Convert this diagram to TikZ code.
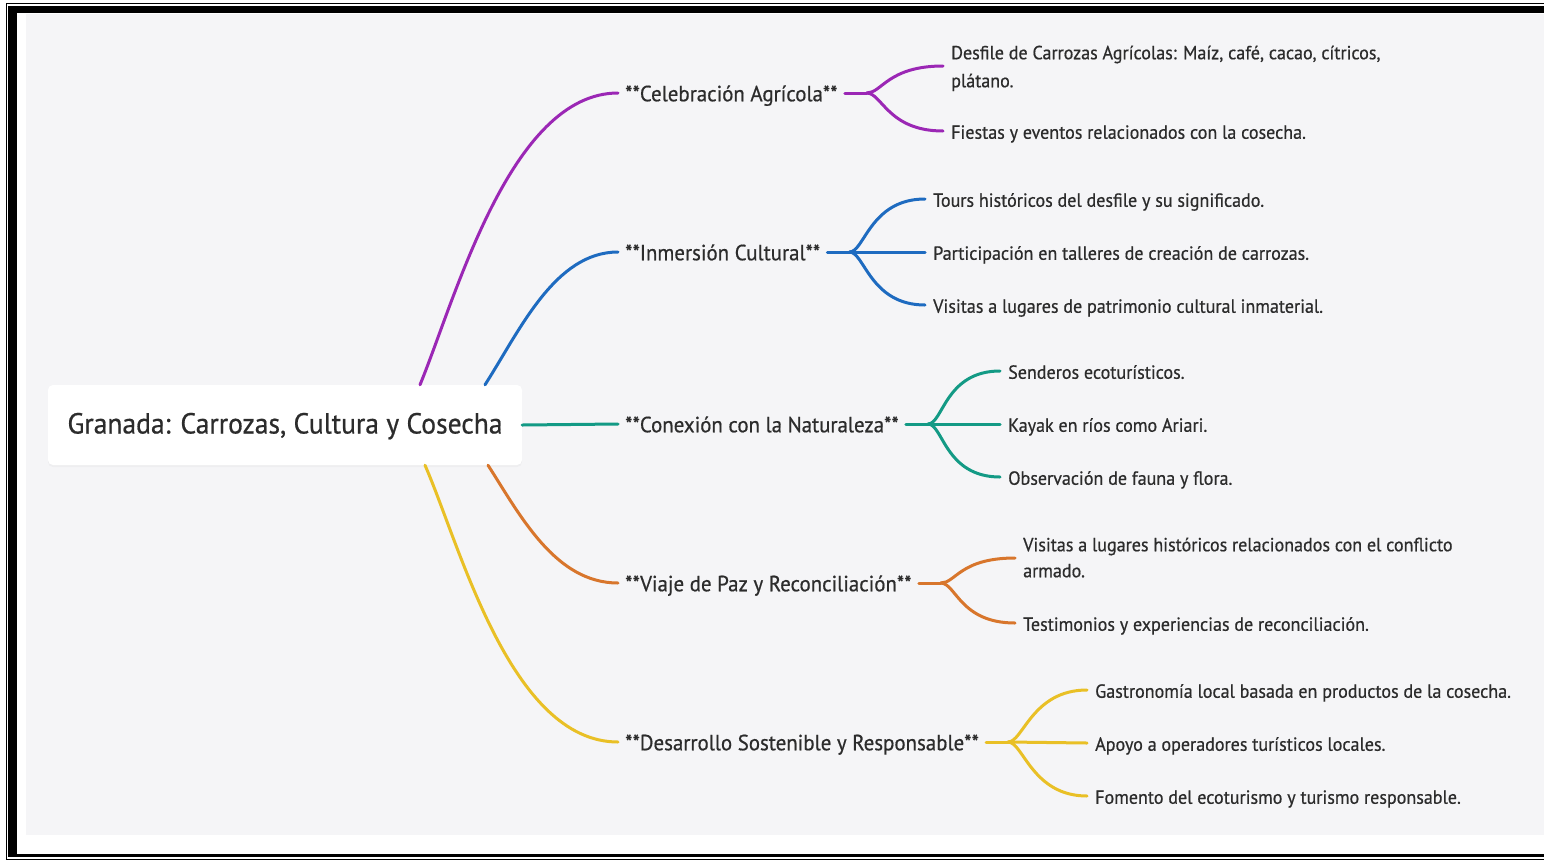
\documentclass[tikz,border=0pt]{standalone}
\usepackage{fontspec}
\setmainfont{PT Sans}[FakeStretch=0.95, FakeBold=0.6]
\usetikzlibrary{shadows}
\definecolor{cpurple}{HTML}{9B27B5}
\definecolor{cblue}{HTML}{1E6BC0}
\definecolor{cteal}{HTML}{139A85}
\definecolor{corange}{HTML}{D8762C}
\definecolor{cyellow}{HTML}{E9C026}
\definecolor{bggray}{HTML}{F5F5F7}
\definecolor{txt}{HTML}{2C2C2C}
\begin{document}
\begin{tikzpicture}[x=1pt,y=-1pt,
  rootbox/.style={fill=white, rounded corners=5pt, minimum width=474pt, minimum height=80pt,
    inner sep=0pt, font=\fontsize{29}{33}\selectfont, text=txt, text height=22pt, text depth=5pt,
    drop shadow={opacity=0.06, shadow xshift=0pt, shadow yshift=-2pt}},
  branch/.style={anchor=west, inner xsep=7pt, inner ysep=0pt, text height=18.5pt, text depth=2pt,
    font=\fontsize{22}{26}\selectfont, text=txt},
  leaf/.style={anchor=west, inner xsep=8pt, inner ysep=0pt, text height=17.5pt, text depth=2pt,
    font=\fontsize{19}{27}\selectfont, text=txt, align=left},
  conn/.style={line width=3pt, line cap=round},
  fork/.style={line width=3pt, line cap=round}
]
\useasboundingbox (0,0) rectangle (1544,860);
\fill[white] (0,0) rectangle (1544,860);
\fill[bggray] (26,14) rectangle (1544,835);
% frame
\draw[line width=1.2pt] (1544,3.5) -- (6.5,3.5) -- (6.5,859.3) -- (1544,859.3);
\fill[black] (8,6) rectangle (1544,13.3);
\fill[black] (8.3,6) rectangle (16.7,857);
\fill[black] (8.3,854) rectangle (1544,857);

% root
\node[rootbox] (root) at (285,425) {Granada: Carrozas, Cultura y Cosecha};

% branches
\node[branch] (b1) at (618,93) {**Celebración Agrícola**};
\node[branch] (b2) at (618,252) {**Inmersión Cultural**};
\node[branch] (b3) at (618,424) {**Conexión con la Naturaleza**};
\node[branch] (b4) at (618,583) {**Viaje de Paz y Reconciliación**};
\node[branch] (b5) at (618,742) {**Desarrollo Sostenible y Responsable**};

% root connectors
\draw[conn,cpurple] ([xshift=135pt]root.north) .. controls (455,300) and (510,93) .. (b1.west);
\draw[conn,cblue] ([xshift=200pt]root.north) .. controls (520,330) and (555,252) .. (b2.west);
\draw[conn,cteal] (root.east) -- (b3.west);
\draw[conn,corange] ([xshift=203pt]root.south) .. controls (520,515) and (555,583) .. (b4.west);
\draw[conn,cyellow] ([xshift=140pt]root.south) .. controls (460,545) and (510,742) .. (b5.west);

% leaves
\node[leaf, yshift=-13.5pt] (l11) at (943,66) {Desfile de Carrozas Agrícolas: Maíz, café, cacao, cítricos,\\[1pt]plátano.};
\node[leaf] (l12) at (943,131) {Fiestas y eventos relacionados con la cosecha.};
\node[leaf] (l21) at (925,199) {Tours históricos del desfile y su significado.};
\node[leaf] (l22) at (925,252) {Participación en talleres de creación de carrozas.};
\node[leaf] (l23) at (925,305) {Visitas a lugares de patrimonio cultural inmaterial.};
\node[leaf] (l31) at (1000,371) {Senderos ecoturísticos.};
\node[leaf] (l32) at (1000,424) {Kayak en ríos como Ariari.};
\node[leaf] (l33) at (1000,477) {Observación de fauna y flora.};
\node[leaf, yshift=-11.5pt] (l41) at (1015,558) {Visitas a lugares históricos relacionados con el conflicto\\[-1pt]armado.};
\node[leaf] (l42) at (1015,623) {Testimonios y experiencias de reconciliación.};
\node[leaf] (l51) at (1087,690) {Gastronomía local basada en productos de la cosecha.};
\node[leaf] (l52) at (1087,743) {Apoyo a operadores turísticos locales.};
\node[leaf] (l53) at (1087,796) {Fomento del ecoturismo y turismo responsable.};

% junctions
\coordinate (j1) at ([xshift=22pt]b1.east);
\coordinate (j2) at ([xshift=22pt]b2.east);
\coordinate (j3) at ([xshift=22pt]b3.east);
\coordinate (j4) at ([xshift=22pt]b4.east);
\coordinate (j5) at ([xshift=22pt]b5.east);

% forks
\draw[fork,cpurple] (b1.east) -- (j1);
\draw[fork,cpurple] (j1) .. controls +(15,0) and +(-55,0) .. ([yshift=13.5pt]l11.west);
\draw[fork,cpurple] (j1) .. controls +(15,0) and +(-55,0) .. (l12.west);

\draw[fork,cblue] (b2.east) -- (j2);
\draw[fork,cblue] (j2) .. controls +(15,0) and +(-55,0) .. (l21.west);
\draw[fork,cblue] (j2) -- (l22.west);
\draw[fork,cblue] (j2) .. controls +(15,0) and +(-55,0) .. (l23.west);

\draw[fork,cteal] (b3.east) -- (j3);
\draw[fork,cteal] (j3) .. controls +(15,0) and +(-55,0) .. (l31.west);
\draw[fork,cteal] (j3) -- (l32.west);
\draw[fork,cteal] (j3) .. controls +(15,0) and +(-55,0) .. (l33.west);

\draw[fork,corange] (b4.east) -- (j4);
\draw[fork,corange] (j4) .. controls +(15,0) and +(-55,0) .. ([yshift=11.5pt]l41.west);
\draw[fork,corange] (j4) .. controls +(15,0) and +(-55,0) .. (l42.west);

\draw[fork,cyellow] (b5.east) -- (j5);
\draw[fork,cyellow] (j5) .. controls +(15,0) and +(-55,0) .. (l51.west);
\draw[fork,cyellow] (j5) -- (l52.west);
\draw[fork,cyellow] (j5) .. controls +(15,0) and +(-55,0) .. (l53.west);
\end{tikzpicture}
\end{document}
